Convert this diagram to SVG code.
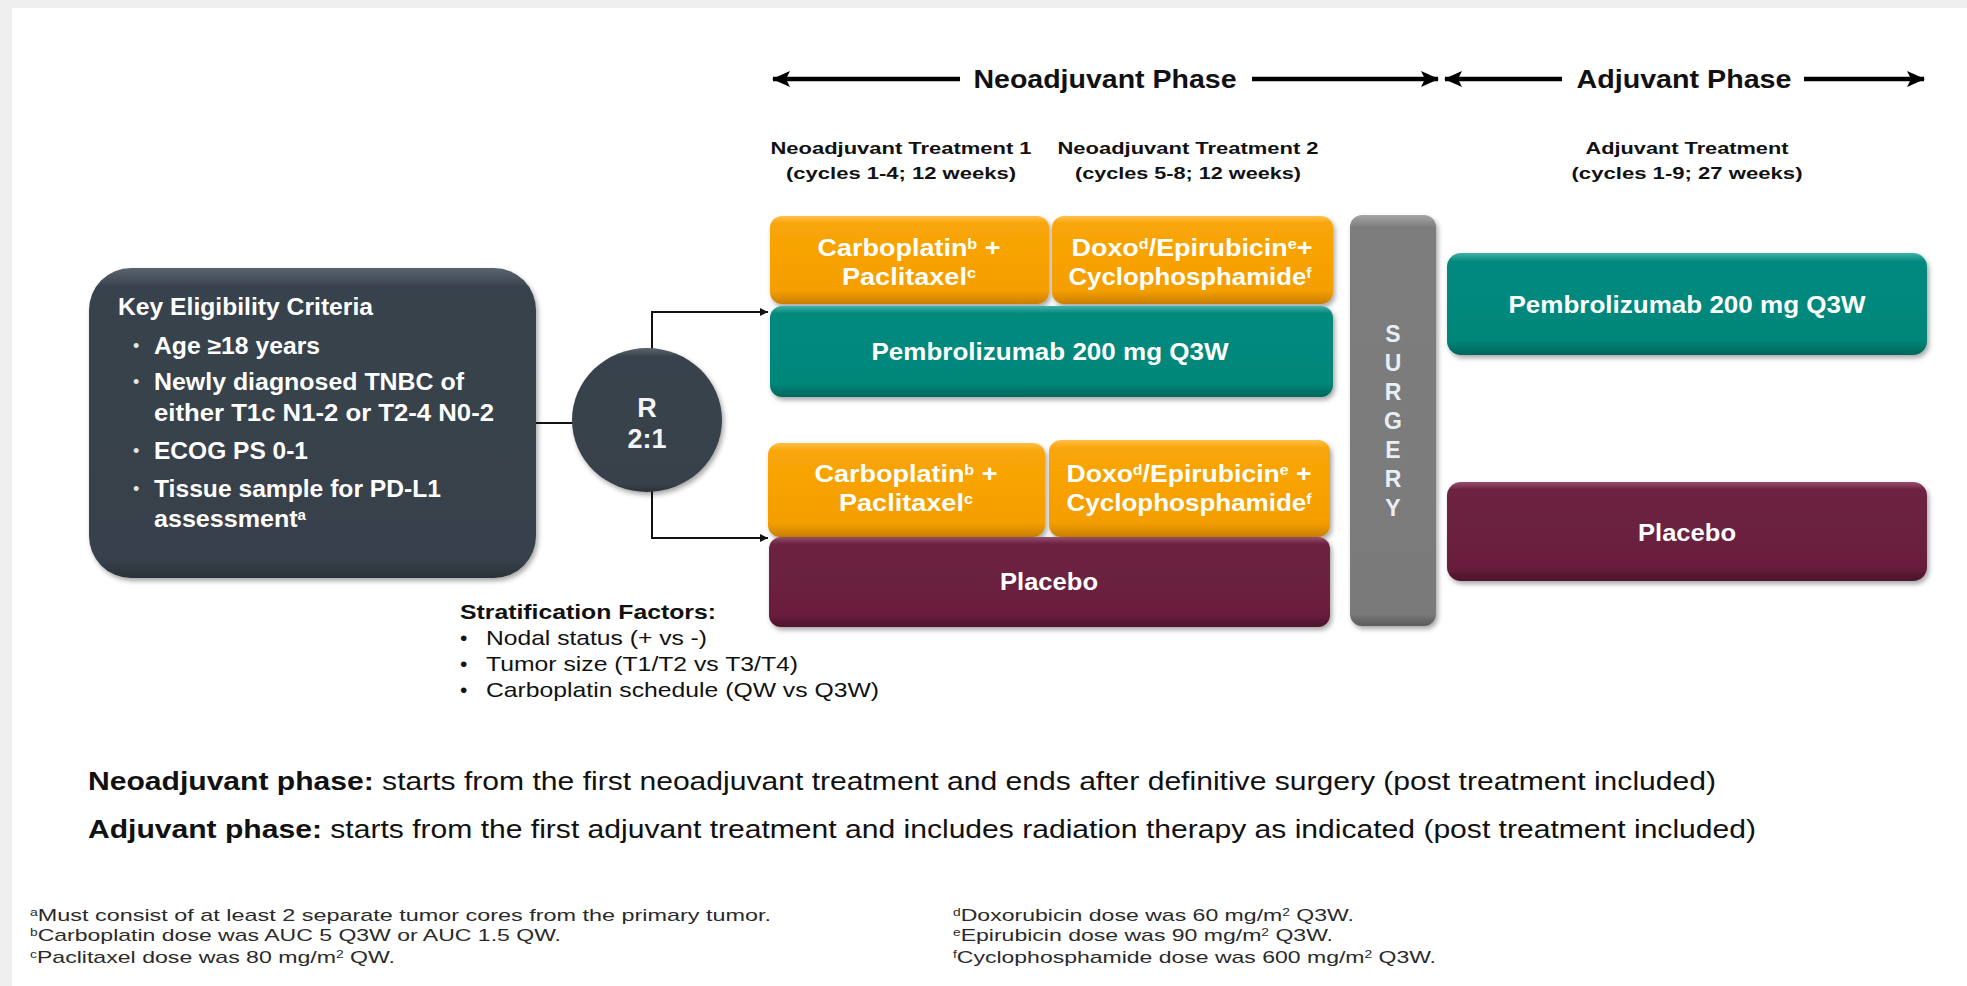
<svg xmlns="http://www.w3.org/2000/svg" width="1967" height="986" viewBox="0 0 1967 986">
<defs>
<style>
text{font-family:"Liberation Sans",Arial,sans-serif}
.b{font-weight:bold}
.bw{font-weight:bold;fill:#ffffff;font-size:23px;text-anchor:middle}
.rr{font-weight:bold;fill:#f2f4f7;font-size:27px;text-anchor:middle}
.sg{font-weight:bold;fill:#e9eef4;font-size:23px;text-anchor:middle}
.hd{font-weight:bold;fill:#111111;font-size:17px;text-anchor:middle}
.ph{font-weight:bold;fill:#111111;font-size:25px;text-anchor:middle}
.kc{font-weight:bold;fill:#ffffff;font-size:23px}
.kb{fill:#e6e6e6;font-size:18px}
.st{fill:#111111;font-size:21px}
.bt{fill:#111111;font-size:25px}
.fn{fill:#2a2a2a;font-size:17px}
.sup{font-size:60%}
.conn{fill:none;stroke:#111111;stroke-width:2}
.arr{fill:none;stroke:#000000;stroke-width:4.5}
</style>
<linearGradient id="gOr" x1="0" y1="0" x2="0" y2="1">
<stop offset="0" stop-color="#ffc04a"/><stop offset="0.08" stop-color="#f9a608"/><stop offset="0.85" stop-color="#f59e00"/><stop offset="1" stop-color="#c97f00"/>
</linearGradient>
<linearGradient id="gTe" x1="0" y1="0" x2="0" y2="1">
<stop offset="0" stop-color="#3fb3a6"/><stop offset="0.08" stop-color="#068a7d"/><stop offset="0.85" stop-color="#05877a"/><stop offset="1" stop-color="#03665c"/>
</linearGradient>
<linearGradient id="gPl" x1="0" y1="0" x2="0" y2="1">
<stop offset="0" stop-color="#94506c"/><stop offset="0.08" stop-color="#6c2140"/><stop offset="0.85" stop-color="#6a1f3e"/><stop offset="1" stop-color="#4c132b"/>
</linearGradient>
<linearGradient id="gSu" x1="0" y1="0" x2="0" y2="1">
<stop offset="0" stop-color="#a6a6a6"/><stop offset="0.03" stop-color="#7d7d7d"/><stop offset="0.97" stop-color="#7a7a7a"/><stop offset="1" stop-color="#5a5a5a"/>
</linearGradient>
<linearGradient id="gDk" x1="0" y1="0" x2="0" y2="1">
<stop offset="0" stop-color="#5a646e"/><stop offset="0.06" stop-color="#39434d"/><stop offset="0.94" stop-color="#37414b"/><stop offset="1" stop-color="#2a323a"/>
</linearGradient>
<filter id="sh" x="-10%" y="-10%" width="130%" height="140%">
<feDropShadow dx="2" dy="3" stdDeviation="2.5" flood-color="#000000" flood-opacity="0.35"/>
</filter>
<marker id="ah" viewBox="0 0 10 10" refX="10" refY="5" markerWidth="8" markerHeight="8" markerUnits="userSpaceOnUse" orient="auto">
<path d="M0,0 L10,5 L0,10 z" fill="#111111"/>
</marker>
<marker id="bh" viewBox="0 0 18 16" refX="17" refY="8" markerWidth="18" markerHeight="16" markerUnits="userSpaceOnUse" orient="auto-start-reverse">
<path d="M0,0 L18,8 L0,16 L4,8 z" fill="#000000"/>
</marker>
</defs>

<rect x="0" y="0" width="1967" height="986" fill="#efefef"/>
<rect x="12" y="8" width="1955" height="978" fill="#ffffff"/>

<g id="phase-arrows">
<line class="arr" x1="773" y1="79" x2="960" y2="79" marker-start="url(#bh)"/>
<line class="arr" x1="1252" y1="79" x2="1438" y2="79" marker-end="url(#bh)"/>
<line class="arr" x1="1445" y1="79" x2="1562" y2="79" marker-start="url(#bh)"/>
<line class="arr" x1="1804" y1="79" x2="1924" y2="79" marker-end="url(#bh)"/>
<text class="ph" x="1105" y="88" textLength="263" lengthAdjust="spacingAndGlyphs">Neoadjuvant Phase</text>
<text class="ph" x="1684" y="88" textLength="215" lengthAdjust="spacingAndGlyphs">Adjuvant Phase</text>
</g>

<g id="headers">
<text class="hd" x="901" y="154" textLength="261" lengthAdjust="spacingAndGlyphs">Neoadjuvant Treatment 1</text>
<text class="hd" x="901" y="179" textLength="230" lengthAdjust="spacingAndGlyphs">(cycles 1-4; 12 weeks)</text>
<text class="hd" x="1188" y="154" textLength="261" lengthAdjust="spacingAndGlyphs">Neoadjuvant Treatment 2</text>
<text class="hd" x="1188" y="179" textLength="226" lengthAdjust="spacingAndGlyphs">(cycles 5-8; 12 weeks)</text>
<text class="hd" x="1687" y="154" textLength="203" lengthAdjust="spacingAndGlyphs">Adjuvant Treatment</text>
<text class="hd" x="1687" y="179" textLength="231" lengthAdjust="spacingAndGlyphs">(cycles 1-9; 27 weeks)</text>
</g>

<g id="connectors">
<line class="conn" x1="536" y1="423" x2="573" y2="423"/>
<polyline class="conn" points="652,349 652,312 768,312" marker-end="url(#ah)"/>
<polyline class="conn" points="652,491 652,538 768,538" marker-end="url(#ah)"/>
</g>

<g id="eligibility">
<rect x="89" y="268" width="447" height="310" rx="42" fill="url(#gDk)" filter="url(#sh)"/>
<text class="kc" x="118" y="315" textLength="255" lengthAdjust="spacingAndGlyphs">Key Eligibility Criteria</text>
<text class="kb" x="133" y="352">•</text>
<text class="kc" x="154" y="354" textLength="166" lengthAdjust="spacingAndGlyphs">Age ≥18 years</text>
<text class="kb" x="133" y="388">•</text>
<text class="kc" x="154" y="390" textLength="310" lengthAdjust="spacingAndGlyphs">Newly diagnosed TNBC of</text>
<text class="kc" x="154" y="421" textLength="340" lengthAdjust="spacingAndGlyphs">either T1c N1-2 or T2-4 N0-2</text>
<text class="kb" x="133" y="457">•</text>
<text class="kc" x="154" y="459" textLength="154" lengthAdjust="spacingAndGlyphs">ECOG PS 0-1</text>
<text class="kb" x="133" y="495">•</text>
<text class="kc" x="154" y="497" textLength="287" lengthAdjust="spacingAndGlyphs">Tissue sample for PD-L1</text>
<text class="kc" x="154" y="527" textLength="152" lengthAdjust="spacingAndGlyphs">assessment<tspan class="sup" baseline-shift="super">a</tspan></text>
</g>

<g id="randomize">
<ellipse cx="647" cy="420" rx="75" ry="72" fill="url(#gDk)" filter="url(#sh)"/>
<text class="rr" x="647" y="417">R</text>
<text class="rr" x="647" y="448">2:1</text>
</g>

<g id="arm1-t1">
<rect x="770" y="216" width="279" height="88" rx="12" fill="url(#gOr)" filter="url(#sh)"/>
<text class="bw" x="909" y="256" textLength="183" lengthAdjust="spacingAndGlyphs">Carboplatin<tspan class="sup" baseline-shift="super">b</tspan> +</text>
<text class="bw" x="909" y="285" textLength="134" lengthAdjust="spacingAndGlyphs">Paclitaxel<tspan class="sup" baseline-shift="super">c</tspan></text>
</g>
<g id="arm1-t2">
<rect x="1052" y="216" width="281" height="88" rx="12" fill="url(#gOr)" filter="url(#sh)"/>
<text class="bw" x="1192" y="256" textLength="241" lengthAdjust="spacingAndGlyphs">Doxo<tspan class="sup" baseline-shift="super">d</tspan>/Epirubicin<tspan class="sup" baseline-shift="super">e</tspan>+</text>
<text class="bw" x="1190" y="285" textLength="243" lengthAdjust="spacingAndGlyphs">Cyclophosphamide<tspan class="sup" baseline-shift="super">f</tspan></text>
</g>
<g id="arm1-pembro">
<rect x="770" y="306" width="563" height="91" rx="12" fill="url(#gTe)" filter="url(#sh)"/>
<text class="bw" x="1050" y="360" textLength="357" lengthAdjust="spacingAndGlyphs">Pembrolizumab 200 mg Q3W</text>
</g>

<g id="arm2-t1">
<rect x="768" y="443" width="277" height="94" rx="12" fill="url(#gOr)" filter="url(#sh)"/>
<text class="bw" x="906" y="482" textLength="183" lengthAdjust="spacingAndGlyphs">Carboplatin<tspan class="sup" baseline-shift="super">b</tspan> +</text>
<text class="bw" x="906" y="511" textLength="134" lengthAdjust="spacingAndGlyphs">Paclitaxel<tspan class="sup" baseline-shift="super">c</tspan></text>
</g>
<g id="arm2-t2">
<rect x="1049" y="440" width="281" height="97" rx="12" fill="url(#gOr)" filter="url(#sh)"/>
<text class="bw" x="1189" y="482" textLength="245" lengthAdjust="spacingAndGlyphs">Doxo<tspan class="sup" baseline-shift="super">d</tspan>/Epirubicin<tspan class="sup" baseline-shift="super">e</tspan> +</text>
<text class="bw" x="1189" y="511" textLength="245" lengthAdjust="spacingAndGlyphs">Cyclophosphamide<tspan class="sup" baseline-shift="super">f</tspan></text>
</g>
<g id="arm2-placebo">
<rect x="769" y="537" width="561" height="90" rx="12" fill="url(#gPl)" filter="url(#sh)"/>
<text class="bw" x="1049" y="590" textLength="98" lengthAdjust="spacingAndGlyphs">Placebo</text>
</g>

<g id="surgery">
<rect x="1350" y="215" width="86" height="411" rx="12" fill="url(#gSu)" filter="url(#sh)"/>
<text class="sg" x="1393" y="342">S</text>
<text class="sg" x="1393" y="371">U</text>
<text class="sg" x="1393" y="400">R</text>
<text class="sg" x="1393" y="429">G</text>
<text class="sg" x="1393" y="458">E</text>
<text class="sg" x="1393" y="487">R</text>
<text class="sg" x="1393" y="516">Y</text>
</g>

<g id="adj-pembro">
<rect x="1447" y="253" width="480" height="102" rx="14" fill="url(#gTe)" filter="url(#sh)"/>
<text class="bw" x="1687" y="313" textLength="357" lengthAdjust="spacingAndGlyphs">Pembrolizumab 200 mg Q3W</text>
</g>
<g id="adj-placebo">
<rect x="1447" y="482" width="480" height="99" rx="14" fill="url(#gPl)" filter="url(#sh)"/>
<text class="bw" x="1687" y="541" textLength="98" lengthAdjust="spacingAndGlyphs">Placebo</text>
</g>

<g id="stratification">
<text class="st b" x="460" y="619" textLength="256" lengthAdjust="spacingAndGlyphs">Stratification Factors:</text>
<text class="st" x="460" y="645">•</text>
<text class="st" x="486" y="645" textLength="221" lengthAdjust="spacingAndGlyphs">Nodal status (+ vs -)</text>
<text class="st" x="460" y="671">•</text>
<text class="st" x="486" y="671" textLength="312" lengthAdjust="spacingAndGlyphs">Tumor size (T1/T2 vs T3/T4)</text>
<text class="st" x="460" y="697">•</text>
<text class="st" x="486" y="697" textLength="393" lengthAdjust="spacingAndGlyphs">Carboplatin schedule (QW vs Q3W)</text>
</g>

<g id="phase-notes">
<text class="bt" x="88" y="790" textLength="1628" lengthAdjust="spacingAndGlyphs"><tspan class="b">Neoadjuvant phase:</tspan> starts from the first neoadjuvant treatment and ends after definitive surgery (post treatment included)</text>
<text class="bt" x="88" y="838" textLength="1668" lengthAdjust="spacingAndGlyphs"><tspan class="b">Adjuvant phase:</tspan> starts from the first adjuvant treatment and includes radiation therapy as indicated (post treatment included)</text>
</g>

<g id="footnotes">
<text class="fn" x="30" y="921" textLength="741" lengthAdjust="spacingAndGlyphs"><tspan class="sup" baseline-shift="super">a</tspan>Must consist of at least 2 separate tumor cores from the primary tumor.</text>
<text class="fn" x="30" y="941" textLength="531" lengthAdjust="spacingAndGlyphs"><tspan class="sup" baseline-shift="super">b</tspan>Carboplatin dose was AUC 5 Q3W or AUC 1.5 QW.</text>
<text class="fn" x="30" y="963" textLength="365" lengthAdjust="spacingAndGlyphs"><tspan class="sup" baseline-shift="super">c</tspan>Paclitaxel dose was 80 mg/m<tspan class="sup" baseline-shift="super">2</tspan> QW.</text>
<text class="fn" x="953" y="921" textLength="401" lengthAdjust="spacingAndGlyphs"><tspan class="sup" baseline-shift="super">d</tspan>Doxorubicin dose was 60 mg/m<tspan class="sup" baseline-shift="super">2</tspan> Q3W.</text>
<text class="fn" x="953" y="941" textLength="380" lengthAdjust="spacingAndGlyphs"><tspan class="sup" baseline-shift="super">e</tspan>Epirubicin dose was 90 mg/m<tspan class="sup" baseline-shift="super">2</tspan> Q3W.</text>
<text class="fn" x="953" y="963" textLength="483" lengthAdjust="spacingAndGlyphs"><tspan class="sup" baseline-shift="super">f</tspan>Cyclophosphamide dose was 600 mg/m<tspan class="sup" baseline-shift="super">2</tspan> Q3W.</text>
</g>
</svg>
